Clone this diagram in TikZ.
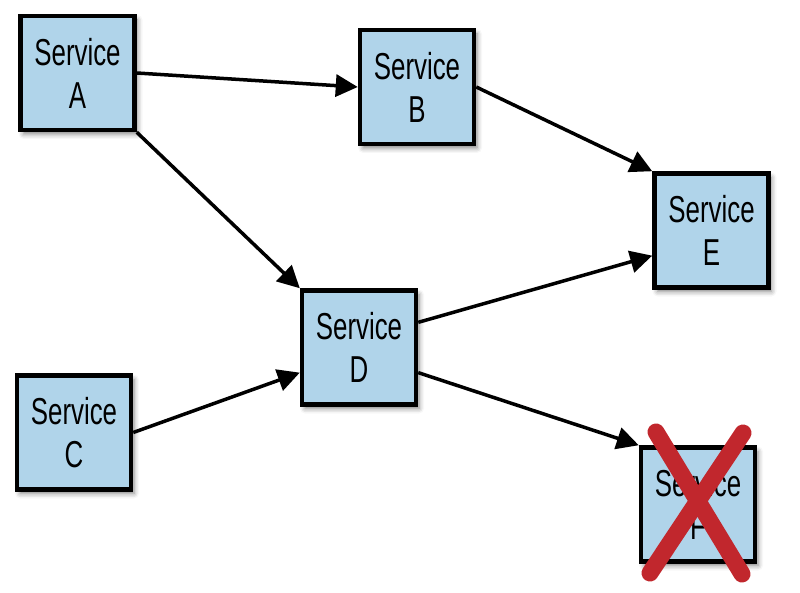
\documentclass[tikz,border=0pt]{standalone}
\usepackage{fontspec}
\setmainfont{Liberation Sans}[FakeStretch=0.69]
\usetikzlibrary{arrows.meta,shadows.blur}

\definecolor{svcblue}{RGB}{176,212,234}
\definecolor{xred}{RGB}{193,39,45}

\tikzset{
  svc/.style={draw=black, line width=4.5pt, fill=svcblue, minimum size=114pt,
    inner sep=0pt, align=center,
    font=\fontsize{37.5}{43}\selectfont,
    blur shadow={shadow xshift=3pt, shadow yshift=-4pt,
      shadow blur radius=5pt, shadow opacity=50}},
  dep/.style={line width=3.5pt, -{Triangle[length=22pt,width=22pt]}},
}

\begin{document}
\begin{tikzpicture}[x=1pt,y=-1pt]
		%%%%% services %%%%%
		\useasboundingbox (0,0) rectangle (800,593);
		
		\node[svc] (a) at (77.5,73) {Service\\A};
		\node[svc] (b) at (417,87) {Service\\B};
		\node[svc] (e) at (711.5,230.5) {Service\\E};
		\node[svc] (d) at (359,347.5) {Service\\D};
		\node[svc] (c) at (74,432.5) {Service\\C};
		\node[svc] (f) at (698,504.5) {Service\\F};
		
		%%%%% calls %%%%%
		\draw[dep] (a.east) -- (b.west);
		\draw[dep] (a.south east) -- (d.north west);
		\draw[dep] (b.east) -- (e.north west);
		\draw[dep] (d.23) -- (e.203);
		\draw[dep] (d.-23) -- (f.north west);
		\draw[dep] (c.east) -- (d.203);
		
		%%%%% failed %%%%%
		\draw[xred, line width=17pt, line cap=round] (656,432) -- (742,574);
		\draw[xred, line width=17pt, line cap=round] (743,433) -- (650,573);
	\end{tikzpicture}
\end{document}
